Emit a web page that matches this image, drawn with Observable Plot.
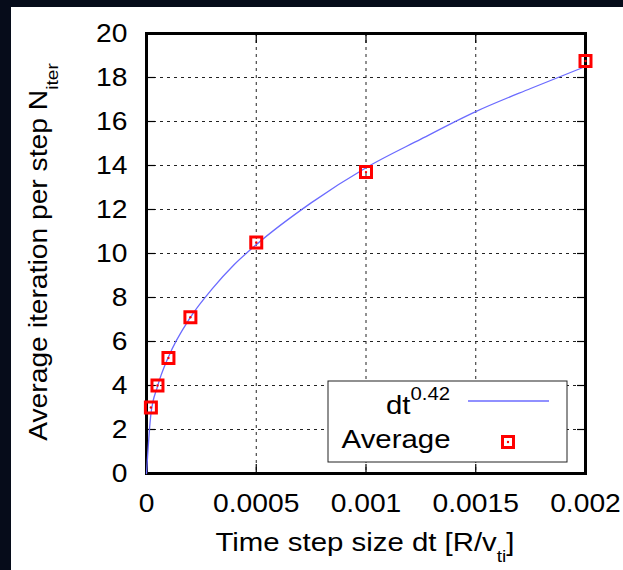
<!DOCTYPE html>
<html>
<head>
<meta charset="utf-8">
<script src="https://cdn.jsdelivr.net/npm/d3@7"></script>
<script src="https://cdn.jsdelivr.net/npm/@observablehq/plot@0.6"></script>
<style>
  html, body { margin: 0; padding: 0; background: #060c1a; width: 623px; height: 570px; overflow: hidden; }
  #panel { position: absolute; left: 11px; top: 7px; width: 612px; height: 563px; background: #ffffff; }
  #panel svg { display: block; }
</style>
</head>
<body>
<div id="panel"></div>
<script>
// Measured averages
const dtValues = [0.00002, 0.00005, 0.0001, 0.0002, 0.0005, 0.001, 0.002];
const avgIter = [3.0, 4.0, 5.25, 7.1, 10.5, 13.7, 18.75];
// Fit curve dt^0.42
const fitDt = [0, 0.00002, 0.00005, 0.0001, 0.0002, 0.0003, 0.0004, 0.0005, 0.00075, 0.001, 0.00125, 0.0015, 0.00175, 0.002];
const fitN = [0, 2.7, 3.95, 5.3, 7.1, 8.4, 9.5, 10.4, 12.3, 13.9, 15.2, 16.45, 17.5, 18.5];
// Axis ticks
const xTicks = [0, 0.0005, 0.001, 0.0015, 0.002];
const yTicks = [0, 2, 4, 6, 8, 10, 12, 14, 16, 18, 20];

const points = dtValues.map((d, i) => ({dt: d, n: avgIter[i]}));
const fit = fitDt.map((d, i) => ({dt: d, n: fitN[i]}));

const FONT = "'Liberation Sans', Arial, Helvetica, sans-serif";
const SX = 1.13; // horizontal stretch of the reference lettering
const gridStyle = {stroke: "#222", strokeOpacity: 1, strokeWidth: 1, strokeDasharray: "3,4"};
const blank = () => "";

const plot = Plot.plot({
  width: 612,
  height: 563,
  marginLeft: 135,
  marginRight: 38,
  marginTop: 26,
  marginBottom: 97,
  style: {fontFamily: FONT, fontSize: "25px", background: "white", color: "black"},
  x: {domain: [0, 0.002], ticks: xTicks, tickFormat: d => String(d)},
  y: {domain: [0, 20], ticks: yTicks},
  marks: [
    Plot.gridX(xTicks, gridStyle),
    Plot.gridY(yTicks, gridStyle),
    Plot.axisX(xTicks, {anchor: "bottom", tickSize: 0, tickPadding: 21, label: null, tickFormat: d => String(d), fontSize: 25}),
    Plot.axisY(yTicks, {anchor: "left", tickSize: 0, tickPadding: 19, label: null, fontSize: 25}),
    Plot.axisX(xTicks, {anchor: "bottom", tickSize: -9, tickFormat: blank, label: null, strokeWidth: 1.2}),
    Plot.axisX(xTicks, {anchor: "top", tickSize: -9, tickFormat: blank, label: null, strokeWidth: 1.2}),
    Plot.axisY(yTicks, {anchor: "left", tickSize: -9, tickFormat: blank, label: null, strokeWidth: 1.2}),
    Plot.axisY(yTicks, {anchor: "right", tickSize: -9, tickFormat: blank, label: null, strokeWidth: 1.2}),
    Plot.frame({stroke: "black", strokeWidth: 3}),
    Plot.line(fit, {x: "dt", y: "n", stroke: "#6b6bff", strokeWidth: 1.3, curve: "monotone-x"}),
    Plot.dot(points, {x: "dt", y: "n", symbol: "square", r: 6.2, stroke: "#ff0000", strokeWidth: 3, fill: "none"}),
    Plot.dot(points, {x: "dt", y: "n", r: 1.2, fill: "#ff0000", stroke: "none"})
  ]
});

document.getElementById("panel").appendChild(plot);
const svg = d3.select(plot);

// stretch tick labels horizontally like the reference lettering (vertical em offsets kept)
svg.selectAll("text").each(function () {
  if (!this.textContent) return;
  const xa = this.getAttribute("x");
  const x = xa && !isNaN(+xa) ? +xa : 0;
  if (xa && !isNaN(+xa)) this.removeAttribute("x");
  const tr = this.getAttribute("transform") || "";
  this.setAttribute("transform", `${tr} translate(${x},0) scale(${SX},1)`);
});

// Axis titles with sub-scripts
const xl = svg.append("text")
  .attr("transform", `translate(354,544) scale(${SX},1)`)
  .attr("text-anchor", "middle")
  .attr("font-family", FONT).attr("font-size", 26).attr("fill", "black");
xl.append("tspan").text("Time step size dt [R/v");
xl.append("tspan").attr("font-size", 17).attr("dy", 11).text("ti");
xl.append("tspan").attr("dy", -11).text("]");

const yl = svg.append("text")
  .attr("transform", `translate(36,245) rotate(-90) scale(${SX},1)`)
  .attr("text-anchor", "middle")
  .attr("font-family", FONT).attr("font-size", 25).attr("fill", "black");
yl.append("tspan").text("Average iteration per step N");
yl.append("tspan").attr("font-size", 17).attr("dy", 11).text("iter");

// Legend
const lg = svg.append("g");
lg.append("rect").attr("x", 317).attr("y", 374).attr("width", 239).attr("height", 81)
  .attr("fill", "white").attr("stroke", "#222").attr("stroke-width", 1);
const t1 = lg.append("text").attr("transform", `translate(439,407) scale(${SX},1)`).attr("text-anchor", "end")
  .attr("font-family", FONT).attr("font-size", 26).attr("fill", "black");
t1.append("tspan").text("dt");
t1.append("tspan").attr("font-size", 18).attr("dy", -14).text("0.42");
lg.append("line").attr("x1", 457).attr("x2", 538).attr("y1", 394).attr("y2", 394)
  .attr("stroke", "#6b6bff").attr("stroke-width", 1.3);
lg.append("text").attr("transform", `translate(439.5,441) scale(${SX},1)`).attr("text-anchor", "end")
  .attr("font-family", FONT).attr("font-size", 26).attr("fill", "black").text("Average");
lg.append("path").attr("d", d3.symbol(d3.symbolSquare, 6.2 * 6.2 * Math.PI)())
  .attr("transform", "translate(497,435)")
  .attr("fill", "none").attr("stroke", "#ff0000").attr("stroke-width", 3);
lg.append("circle").attr("cx", 497).attr("cy", 435).attr("r", 1.2).attr("fill", "#ff0000");
</script>
</body>
</html>
